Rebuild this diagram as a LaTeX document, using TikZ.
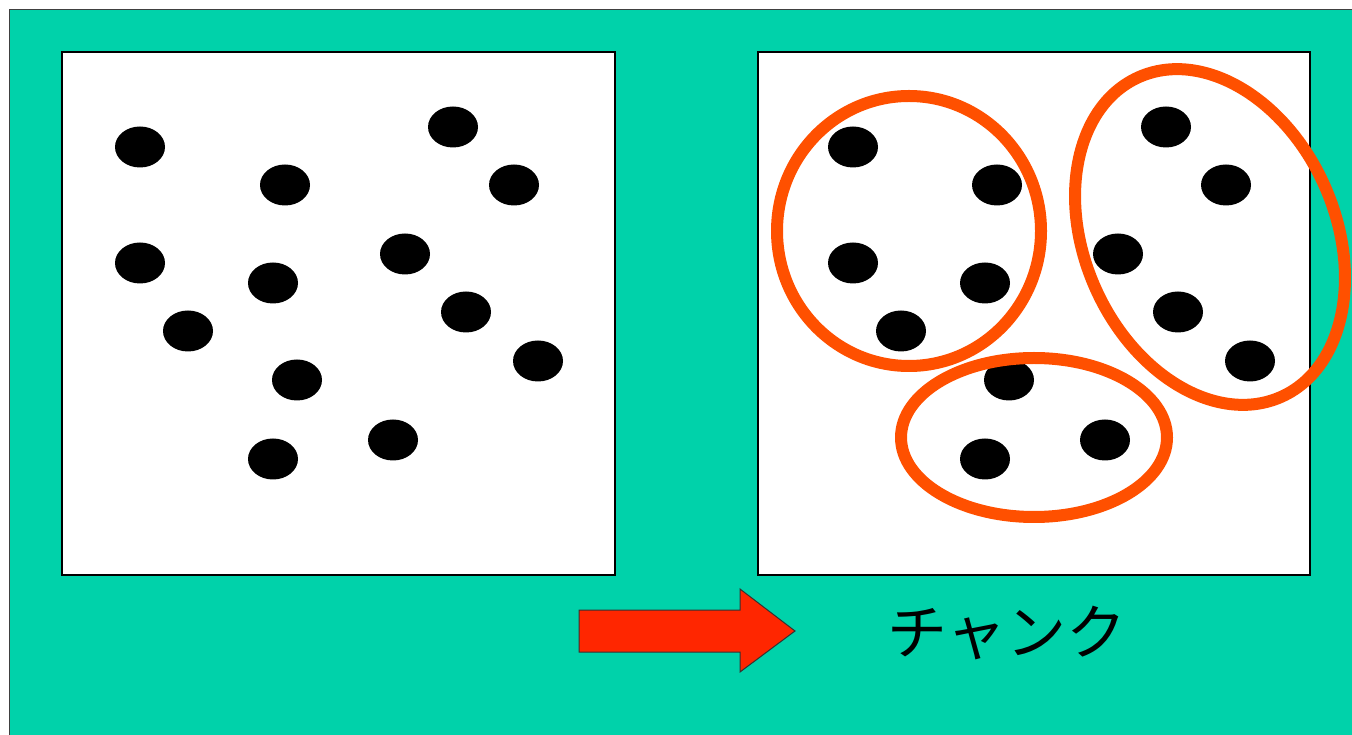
\documentclass[tikz,border=0pt]{standalone}
\usepackage{fontspec}
\newfontfamily\cjk{Noto Sans CJK JP}
\definecolor{bggreen}{RGB}{0,210,170}
\definecolor{ringorange}{RGB}{255,80,0}
\definecolor{arrowred}{RGB}{255,38,0}
\tikzset{
  panel/.style={draw=black, line width=1.2pt, fill=white},
  dot/.style={fill=black},
  ring/.style={draw=ringorange, line width=12pt},
}
\begin{document}
\begin{tikzpicture}[x=1pt,y=1pt]
\useasboundingbox (0,0) rectangle (1352,734);
\fill[white] (0,0) rectangle (1352,734);
% background panel
\fill[bggreen, draw=black!75, line width=1pt] (9,-5) rectangle (1362,724);
% white panels
\draw[panel] (62,159) rectangle (615,682);
\draw[panel] (758,159) rectangle (1310,682);
% left dots
\foreach \px/\py in {140/587,285/549,453/607,514/549,140/471,273/451,405/480,188/403,466/422,538/373,297/354,393/294,273/275}
  \fill[dot] (\px,\py) ellipse [x radius=25pt, y radius=20.5pt];
% right dots
\foreach \px/\py in {853/587,997/549,853/471,985/451,901/403,1166/607,1226/549,1118/480,1178/422,1250/373,1009/354,1105/294,985/275}
  \fill[dot] (\px,\py) ellipse [x radius=25pt, y radius=20.5pt];
% chunk rings
\draw[ring] (909,503) ellipse [x radius=132pt, y radius=135pt];
\draw[ring] (1034,296.5) ellipse [x radius=133pt, y radius=79.5pt];
\draw[ring, rotate around={24:(1210,497)}] (1210,497) ellipse [x radius=125.5pt, y radius=175pt];
% arrow
\filldraw[fill=arrowred, draw=black!80, line width=1pt]
  (579,82) -- (579,124) -- (740,124) -- (740,145) -- (795,103) -- (740,62) -- (740,82) -- cycle;
% label
\node[inner sep=0pt, font=\cjk\fontsize{60}{66}\selectfont] (lbl) at (1007,101) {チャンク};
\end{tikzpicture}
\end{document}
